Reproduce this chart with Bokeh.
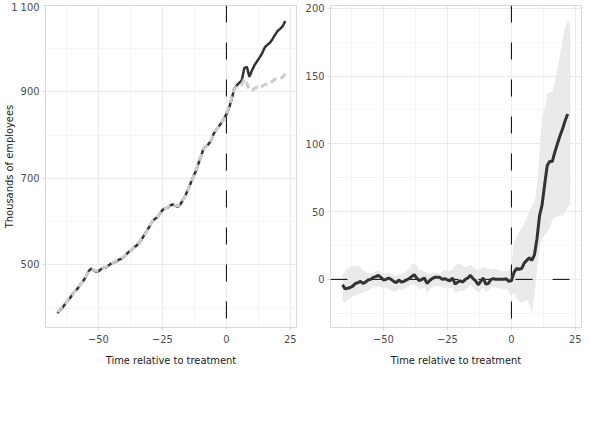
from bokeh.plotting import figure
from bokeh.models import FixedTicker, Span, Legend, LegendItem, ColumnDataSource
from bokeh.layouts import row
from bokeh.embed import file_html
from bokeh.resources import INLINE

# ---------------- data ----------------
t_left = list(range(-66, 24))
bajio = [388, 396, 401, 410, 417, 424, 433, 440, 446, 455,
         462, 472, 484, 491, 488, 484, 485, 490, 493, 494,
         499, 503, 505, 508, 512, 514, 519, 525, 531, 535,
         541, 545, 552, 560, 570, 580, 589, 600, 606, 610,
         619, 627, 630, 632, 637, 640, 637, 634, 640, 650,
         661, 674, 688, 703, 716, 733, 750, 768, 774, 779,
         788, 803, 812, 820, 828, 838, 848, 862, 882, 906,
         915, 921, 927, 955, 958, 935, 950, 962, 971, 980,
         990, 1003, 1009, 1014, 1022, 1032, 1041, 1046, 1052, 1064]
synthetic = [391, 398, 403, 409, 418, 426, 432, 441, 448, 454,
             464, 473, 482, 489, 489, 486, 486, 489, 492, 495,
             498, 502, 506, 509, 511, 515, 520, 524, 530, 536,
             540, 546, 553, 561, 569, 579, 590, 599, 605, 611,
             620, 626, 629, 633, 638, 639, 638, 636, 641, 651,
             660, 673, 689, 702, 717, 734, 751, 767, 773, 780,
             789, 802, 811, 821, 829, 837, 849, 866, 885, 905,
             912, 915, 917, 930, 920, 905, 903, 908, 911, 909,
             913, 917, 918, 919, 925, 930, 930, 932, 934, 942]

t_att = list(range(-66, 23))
att = [-4, -7, -6.5, -6, -5, -3, -2.5, -1.5, -3, -2,
       -0.5, 0, 1.5, 2, 3, 1.5, -0.5, 0, 1, 0,
       -1.5, -2.5, -0.5, -2, -1.5, -0.5, 0.5, 2, 3.5, 1,
       -1, 0, 1, -3, -1, 0.5, 1.5, 1.5, 1.5, 0,
       0.5, -0.5, -1, 1, -3.5, -2, -1, -2, 0, 1,
       3, 0.5, -1, -4, -1.5, 1, -3.5, -3, 0, 0.5,
       0, 0, 0, 0, 0.5, -1.5, -1, 5, 8, 7.5,
       8, 12, 14, 16, 14, 18, 30, 47, 55, 70,
       84, 87, 87, 94, 100, 106, 111, 117, 122]

t_band = list(range(-66, 24))
band_upper = [4, 6, 8, 9, 10, 10, 10, 9, 7, 5,
              5, 4, 5, 6, 7, 5, 4, 5, 5, 4,
              3, 3, 4, 4, 5, 6, 8, 11, 12, 10,
              7, 7, 6, 4, 4, 5, 5, 5, 4, 6,
              7, 7, 6, 8, 10, 12, 11, 10, 9, 10,
              11, 9, 8, 7, 8, 9, 8, 8, 7, 8,
              8, 7, 6, 6, 6, 6, 10, 27, 31, 35,
              38, 41, 45, 50, 54, 58, 68, 95, 120, 126,
              137, 138, 138, 146, 155, 166, 177, 186, 191, 188]
band_lower = [-16, -17, -15, -14, -12, -12, -11, -10, -10, -9,
              -8, -7, -6, -6, -5, -6, -7, -6, -7, -8,
              -9, -9, -7, -8, -7, -6, -5, -4, -4, -5,
              -7, -7, -6, -10, -8, -6, -5, -5, -5, -6,
              -6, -6, -7, -6, -10, -9, -8, -9, -7, -6,
              -4, -6, -8, -10, -8, -6, -9, -9, -6, -6,
              -6, -6, -7, -7, -7, -9, -12, -10, -14, -16,
              -17, -16, -15, -18, -25, -12, 8, 22, 31, 33,
              35, 38, 44, 46, 46, 47, 47, 50, 53, 55]

x_ticks = [-50, -25, 0, 25]
x_minor = [-62.5, -37.5, -12.5, 12.5]
yl_ticks = [500, 700, 900, 1100]
yl_minor = [400, 600, 800, 1000]
yr_ticks = [0, 50, 100, 150, 200]
yr_minor = [-25, 25, 75, 125, 175]

FONT = "DejaVu Sans Condensed"
DARK = "#333333"
LIGHT = "#cccccc"
BAND = "#e8e8e8"


def style(p, yt, ym):
    p.background_fill_color = "white"
    p.border_fill_color = "white"
    p.outline_line_color = "#d9d9d9"
    p.outline_line_width = 1
    p.xaxis.ticker = FixedTicker(ticks=x_ticks, minor_ticks=x_minor)
    p.yaxis.ticker = FixedTicker(ticks=yt, minor_ticks=ym)
    for ax in (p.xaxis, p.yaxis):
        ax.axis_line_color = None
        ax.major_tick_line_color = "#d9d9d9"
        ax.major_tick_out = 3
        ax.major_tick_in = 0
        ax.minor_tick_line_color = None
        ax.major_label_text_font = FONT
        ax.major_label_text_font_size = "11px"
        ax.major_label_text_color = "#4d4d4d"
        ax.axis_label_text_font = FONT
        ax.axis_label_text_font_size = "11px"
        ax.axis_label_text_font_style = "normal"
        ax.axis_label_text_color = "#1a1a1a"
        ax.major_label_standoff = 2
    p.xaxis.major_label_standoff = 3
    p.xaxis.axis_label = "Time relative to treatment"
    p.xaxis.axis_label_standoff = 8
    p.xgrid.grid_line_color = "#ebebeb"
    p.ygrid.grid_line_color = "#ebebeb"
    p.xgrid.minor_grid_line_color = "#f5f5f5"
    p.ygrid.minor_grid_line_color = "#f5f5f5"


def legend(p, items):
    lg = Legend(items=items, orientation="horizontal", location="top")
    lg.border_line_color = None
    lg.background_fill_alpha = 0
    lg.glyph_width = 10
    lg.glyph_height = 12
    lg.label_height = 14
    lg.label_standoff = 8
    lg.spacing = 34
    lg.padding = 4
    lg.margin = -24
    lg.label_text_font = FONT
    lg.label_text_font_size = "11px"
    lg.label_text_color = "#1a1a1a"
    p.add_layout(lg, "below")


# ---------------- left panel ----------------
p1 = figure(frame_width=251, frame_height=322, x_range=(-70.7, 27.4), y_range=(355, 1100),
            output_backend="svg", toolbar_location=None,
            min_border_left=30, min_border_right=2, min_border_top=5,
            min_border_bottom=0)
style(p1, yl_ticks, yl_minor)
yl_labels = {v: f"{v:,}".replace(",", " ") for v in yl_ticks}
p1.yaxis.major_label_overrides = yl_labels
p1.yaxis.axis_label = "Thousands of employees"
p1.yaxis.axis_label_standoff = -8

src1 = ColumnDataSource(dict(t=t_left, bajio=bajio, synthetic=synthetic))
p1.add_layout(Span(location=0, dimension="height", line_color="black",
                   line_width=1, line_dash="17 20"))
r_b = p1.line("t", "bajio", source=src1, line_color=DARK, line_width=2.5)
r_s = p1.line("t", "synthetic", source=src1, line_color=LIGHT, line_width=3,
              line_dash="7 4")
r_b.level = "overlay"
r_s.level = "overlay"
k_b = p1.line([], [], line_color=DARK, line_width=3)
k_s = p1.line([], [], line_color=LIGHT, line_width=4)
legend(p1, [LegendItem(label="Bajío Average", renderers=[k_b]),
            LegendItem(label="Synthetic Average", renderers=[k_s])])

# ---------------- right panel ----------------
p2 = figure(frame_width=251, frame_height=322, x_range=(-70.7, 27.4), y_range=(-35.5, 202),
            output_backend="svg", toolbar_location=None,
            min_border_left=32, min_border_right=1, min_border_top=5,
            min_border_bottom=0)
style(p2, yr_ticks, yr_minor)

src_band = ColumnDataSource(dict(t=t_band, lo=band_lower, hi=band_upper))
src_att = ColumnDataSource(dict(t=t_att, att=att))
p2.varea(x="t", y1="lo", y2="hi", source=src_band, fill_color=BAND, fill_alpha=0.9)
p2.add_layout(Span(location=0, dimension="height", line_color="black",
                   line_width=1, line_dash="17 20"))
p2.add_layout(Span(location=0, dimension="width", line_color="black",
                   line_width=1, line_dash="17 20"))
r_a = p2.line("t", "att", source=src_att, line_color=DARK, line_width=3)
r_a.level = "overlay"
k_a = p2.line([], [], line_color=DARK, line_width=3)
legend(p2, [LegendItem(label="ATT Average", renderers=[k_a])])

layout = row(p1, p2)
open("out.html", "w").write(file_html(layout, INLINE))
